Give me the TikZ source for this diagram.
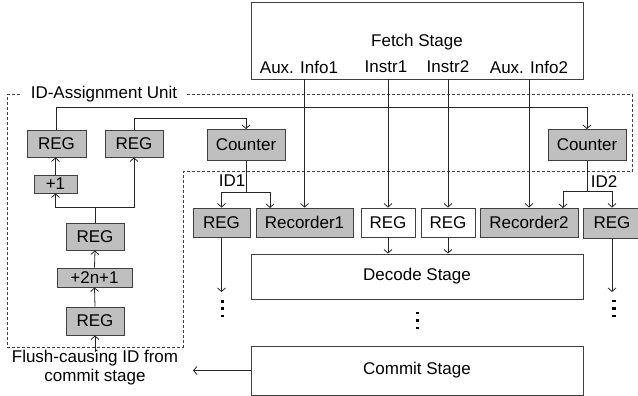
\documentclass[tikz,border=0pt]{standalone}
\usepackage{fontspec}
\setmainfont{Liberation Sans}
\usetikzlibrary{arrows.meta}
\tikzset{
  txt/.style={inner sep=0pt, font=\fontsize{17}{19}\selectfont},
  boxbase/.style={txt, draw=black!75, line width=0.9pt},
  graybox/.style={boxbase, fill=black!25},
  whitebox/.style={boxbase, fill=white},
  wire/.style={line width=0.8pt, draw=black!85},
  arr/.style={wire, -{Straight Barb[length=3.5pt,width=8pt,line width=0.8pt]}},
  unitborder/.style={draw=black!75, line width=0.7pt, dash pattern=on 3pt off 2pt},
  dotmark/.style={fill=black, minimum width=3.5pt, minimum height=2.6pt, inner sep=0pt},
}
\begin{document}
\begin{tikzpicture}[x=1pt,y=-1pt]
\useasboundingbox (0,0) rectangle (638,396);

% ---- ID-assignment unit outline ----
\draw[unitborder] (7,94) -- (632,94) -- (632,171.5) -- (183,171.5) -- (183,347) -- (7,347) -- cycle;
\node[txt, fill=white, inner xsep=9pt, inner ysep=1pt] (unitlabel) at (104,94) {ID-Assignment Unit};

% ---- pipeline stages ----
\node[whitebox, minimum width=332pt, minimum height=77pt] (fetch) at (417,40.5) {};
\node[txt] (fetchname) at (417,42) {Fetch Stage};
\node[txt] (aux1) at (299,67) {Aux. Info1};
\node[txt] (ins1) at (386,67) {Instr1};
\node[txt] (ins2) at (448,67) {Instr2};
\node[txt] (aux2) at (529,67) {Aux. Info2};

\node[whitebox, minimum width=332pt, minimum height=45pt] (decode) at (417,276.5) {Decode Stage};
\node[whitebox, minimum width=332pt, minimum height=49pt] (commit) at (417,370.5) {Commit Stage};

% ---- ID generation chain ----
\node[graybox, minimum width=59pt, minimum height=27pt] (reg1) at (56.5,143.5) {REG};
\node[graybox, minimum width=58pt, minimum height=27pt] (reg2) at (134,143.5) {REG};
\node[graybox, minimum width=43pt, minimum height=18pt] (plus1) at (55.5,184) {+1};
\node[graybox, minimum width=58pt, minimum height=27pt] (reg3) at (95,236.5) {REG};
\node[graybox, minimum width=75pt, minimum height=19pt] (plus2n) at (94.5,277.5) {+2n+1};
\node[graybox, minimum width=58pt, minimum height=28pt] (reg4) at (95,321) {REG};
\node[graybox, minimum width=78pt, minimum height=30.5pt] (counter1) at (246,144.75) {Counter};
\node[graybox, minimum width=78pt, minimum height=31pt] (counter2) at (587,145) {Counter};

\node[txt] (flushA) at (95,358.5) {Flush-causing ID from};
\node[txt] (flushB) at (95,377) {commit stage};

% ---- latch row ----
\node[graybox, minimum width=57pt, minimum height=29pt] (rega) at (221.5,222.5) {REG};
\node[graybox, minimum width=97pt, minimum height=29pt] (rec1) at (304.5,222.5) {Recorder1};
\node[whitebox, minimum width=54pt, minimum height=29pt] (regb) at (388,222.5) {REG};
\node[whitebox, minimum width=54pt, minimum height=29pt] (regc) at (448,222.5) {REG};
\node[graybox, minimum width=98pt, minimum height=29pt] (rec2) at (529,222.5) {Recorder2};
\node[graybox, minimum width=58pt, minimum height=30pt] (regd) at (612,223) {REG};

\node[txt] (id1) at (232,181) {ID1};
\node[txt] (id2) at (604,182) {ID2};

% ---- helper coordinates ----
\coordinate (busA) at (0,107);
\coordinate (busB) at (0,118);
\coordinate (busC) at (0,207);
\coordinate (split1) at (246,192);
\coordinate (split2) at (587,191);
\coordinate (rec1id) at (270,208);
\coordinate (rec2id) at (563,208);
\coordinate (flushin) at (95,352);
\coordinate (outA) at (221.5,292);
\coordinate (outD) at (612,292);
\coordinate (flushout) at (193,370.5);

% ---- fetch outputs ----
\draw[arr] (fetch.south -| rec1) -- (rec1.north);
\draw[arr] (fetch.south -| regb) -- (regb.north);
\draw[arr] (fetch.south -| regc) -- (regc.north);
\draw[arr] (fetch.south -| rec2) -- (rec2.north);

% ---- ID unit wiring ----
\draw[arr] (reg1.north) -- (reg1.north |- busA) -- (counter2.north |- busA) -- (counter2.north);
\draw[arr] (reg2.north) -- (reg2.north |- busB) -- (counter1.north |- busB) -- (counter1.north);
\draw[arr] (plus1.north) -- (plus1.north |- reg1.south);
\draw[wire] (reg3.north) -- (reg3.north |- busC);
\draw[arr] (reg3.north |- busC) -| (plus1.south);
\draw[arr] (reg3.north |- busC) -| (reg2.south);
\draw[arr] (plus2n.north) -- (reg3.south);
\draw[arr] (reg4.north) -- (plus2n.south);
\draw[arr] (flushin) -- (reg4.south);

% ---- ID distribution ----
\draw[wire] (counter1.south) -- (split1);
\draw[arr] (split1) -| (rega.north);
\draw[arr] (split1) -| (rec1id);
\draw[wire] (counter2.south) -- (split2);
\draw[arr] (split2) -| (rec2id);
\draw[arr] (split2) -| (regd.north);

% ---- into decode and onward ----
\draw[arr] (regb.south) -- (regb.south |- decode.north);
\draw[arr] (regc.south) -- (regc.south |- decode.north);
\draw[arr] (rega.south) -- (outA);
\draw[arr] (regd.south) -- (outD);
\draw[arr] (commit.west) -- (flushout);

% ---- continuation dots ----
\foreach \y in {301.5,308.5,316} \node[dotmark] at (222.5,\y) {};
\foreach \y in {313,320.5,328} \node[dotmark] at (417.5,\y) {};
\foreach \y in {301,308.5,316} \node[dotmark] at (614,\y) {};
\end{tikzpicture}
\end{document}
